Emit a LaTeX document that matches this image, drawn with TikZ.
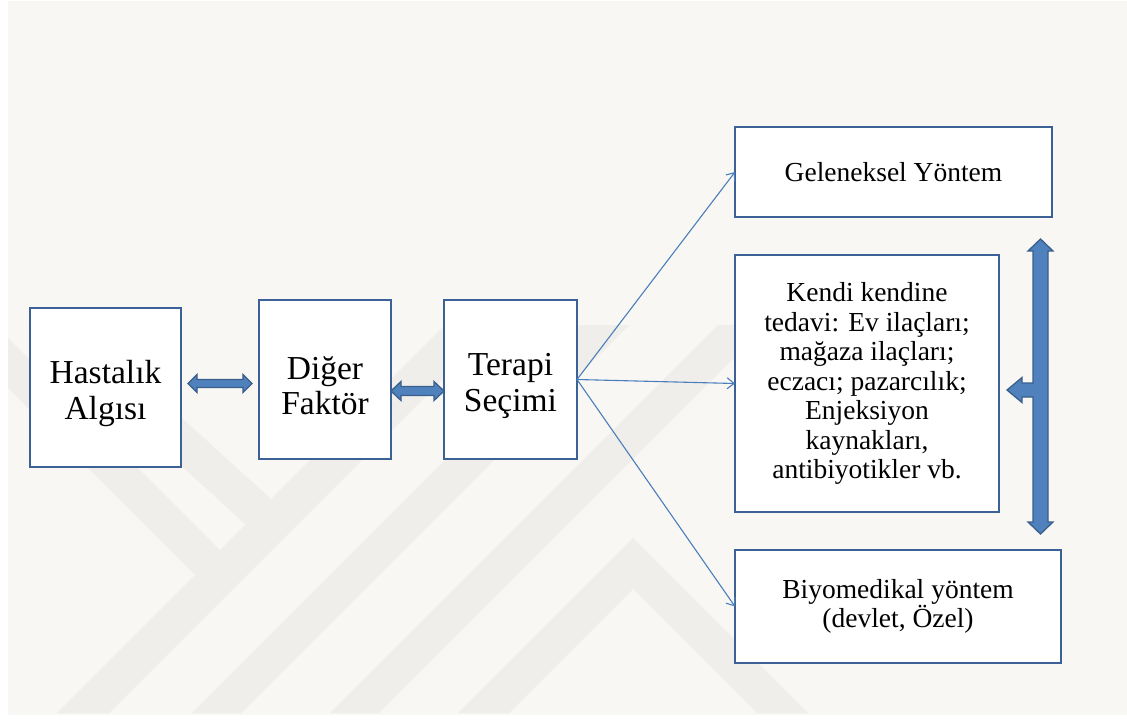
\documentclass[tikz,border=0pt]{standalone}
\usepackage{fontspec}
\setmainfont{Liberation Serif}
\usetikzlibrary{calc,arrows.meta}
\definecolor{pagebg}{HTML}{F8F7F3}
\definecolor{wmark}{HTML}{EFEEEA}
\definecolor{boxline}{HTML}{3B6196}
\definecolor{blockfill}{HTML}{4F81BD}
\definecolor{blockline}{HTML}{3A5F8C}
\definecolor{thinline}{HTML}{4A7EBB}
\tikzset{
  box/.style={draw=boxline, line width=2.8pt, fill=white, rectangle,
    inner sep=0pt, outer sep=0pt, align=center},
  bigtext/.style={font=\fontsize{33.5}{35.5}\selectfont},
  smalltext/.style={font=\fontsize{27.5}{29.5}\selectfont},
  blockarrow/.style={fill=blockfill, draw=blockline, line width=1.3pt, line join=miter},
  thinarrow/.style={draw=thinline, line width=1.1pt,
    -{Straight Barb[length=7pt,width=11pt]}},
  wm/.style={fill=wmark, draw=none},
}
% horizontal double block arrow: tips #1 and #2, head half-height #3,
% shaft half-height #4, head length #5
\newcommand\hblock[5]{%
  \draw[blockarrow] (#1) -- ($(#1)+(#5,-#3)$) -- ($(#1)+(#5,-#4)$)
    -- ($(#2)+(-#5,-#4)$) -- ($(#2)+(-#5,-#3)$) -- (#2)
    -- ($(#2)+(-#5,#3)$) -- ($(#2)+(-#5,#4)$) -- ($(#1)+(#5,#4)$)
    -- ($(#1)+(#5,#3)$) -- cycle;}
\begin{document}
\begin{tikzpicture}[x=1pt,y=-1pt]
  % page
  \fill[white] (0,0) rectangle (1127,720);
  \fill[pagebg] (8,1) rectangle (1127,715);
  \useasboundingbox (0,0) rectangle (1127,720);

  % faint logo stripes in the background
  \begin{scope}
    \clip (8,325) rectangle (1127,713);
    \fill[wm] (57,713) -- (109,713) -- (522,300) -- (470,300) -- cycle;
    \fill[wm] (192,713) -- (241,713) -- (654,300) -- (605,300) -- cycle;
    \fill[wm] (330,713) -- (379,713) -- (792,300) -- (743,300) -- cycle;
    \fill[wm] (458,713) -- (633,538) -- (808,713) -- (757,713)
      -- (633,589) -- (509,713) -- cycle;
    \fill[wm] (-10,320) -- (220,550) -- (195,575) -- (-10,370) -- cycle;
    \fill[wm] (-10,290) -- (41,290) -- (271,499) -- (245.5,524.5) -- cycle;
  \end{scope}

  % boxes
  \node[box, bigtext, minimum width=151pt, minimum height=159pt] (has)
    at (105.5,387.5) {\rule{0pt}{4pt}\\[-4pt]Hastalık\\Algısı};
  \node[box, bigtext, minimum width=132pt, minimum height=159pt] (dig)
    at (325,379.5) {\rule{0pt}{4pt}\\[-4pt]Diğer\\Faktör};
  \node[box, bigtext, minimum width=133pt, minimum height=159pt] (ter)
    at (510.5,379.5) {\rule{0pt}{4pt}\\[-4pt]Terapi\\Seçimi};
  \node[box, smalltext, minimum width=317pt, minimum height=90pt] (gel)
    at (893.5,172) {Geleneksel Yöntem};
  \node[box, smalltext, minimum width=264pt, minimum height=257pt] (ken)
    at (867,383.5) {Kendi kendine\\tedavi: Ev ilaçları;\\mağaza ilaçları;\\eczacı; pazarcılık;\\Enjeksiyon\\kaynakları,\\antibiyotikler vb.};
  \node[box, smalltext, minimum width=326pt, minimum height=113pt] (biy)
    at (898,606.5) {Biyomedikal yöntem\\(devlet, Özel)};

  % double block arrows between the left boxes
  \coordinate (a1) at ($(has.east)!0.5!(dig.west)$);
  \coordinate (a1l) at ($(a1)+(-32,0)$);
  \coordinate (a1r) at ($(a1)+(32,0)$);
  \hblock{a1l}{a1r}{9}{4}{9}
  \coordinate (a2) at ($(dig.east)!0.5!(ter.west)+(0,11.5)$);
  \coordinate (a2l) at ($(a2)+(-26.5,0)$);
  \coordinate (a2r) at ($(a2)+(26.5,0)$);
  \hblock{a2l}{a2r}{9.5}{4.5}{10}

  % thin arrows from the therapy choice
  \draw[thinarrow] (ter.east) -- (gel.west);
  \draw[thinarrow] (ter.east) -- (ken.west);
  \draw[thinarrow] (ter.east) -- (biy.west);

  % vertical double block arrow with branch into the self-treatment box
  \coordinate (vt) at ($(ken.north east)+(41.5,-16)$);
  \coordinate (vb) at ($(ken.south east)+(41.5,22)$);
  \coordinate (bt) at ($(ken.east)+(8,6.5)$);
  \coordinate (sl) at ($(vt)+(-7.5,0)$);
  \draw[blockarrow] (vt) -- ++(12.5,12) -- ++(-5,0) -- ($(vb)+(7.5,-12)$)
    -- ++(5,0) -- (vb) -- ++(-12.5,-12) -- ++(5,0)
    -- ($(sl |- bt)+(0,7)$) -- ($(bt)+(15,7)$) -- ($(bt)+(15,12.5)$)
    -- (bt) -- ($(bt)+(15,-12.5)$) -- ($(bt)+(15,-7)$)
    -- ($(sl |- bt)+(0,-7)$) -- ($(vt)+(-7.5,12)$) -- ++(-5,0) -- cycle;
\end{tikzpicture}
\end{document}
